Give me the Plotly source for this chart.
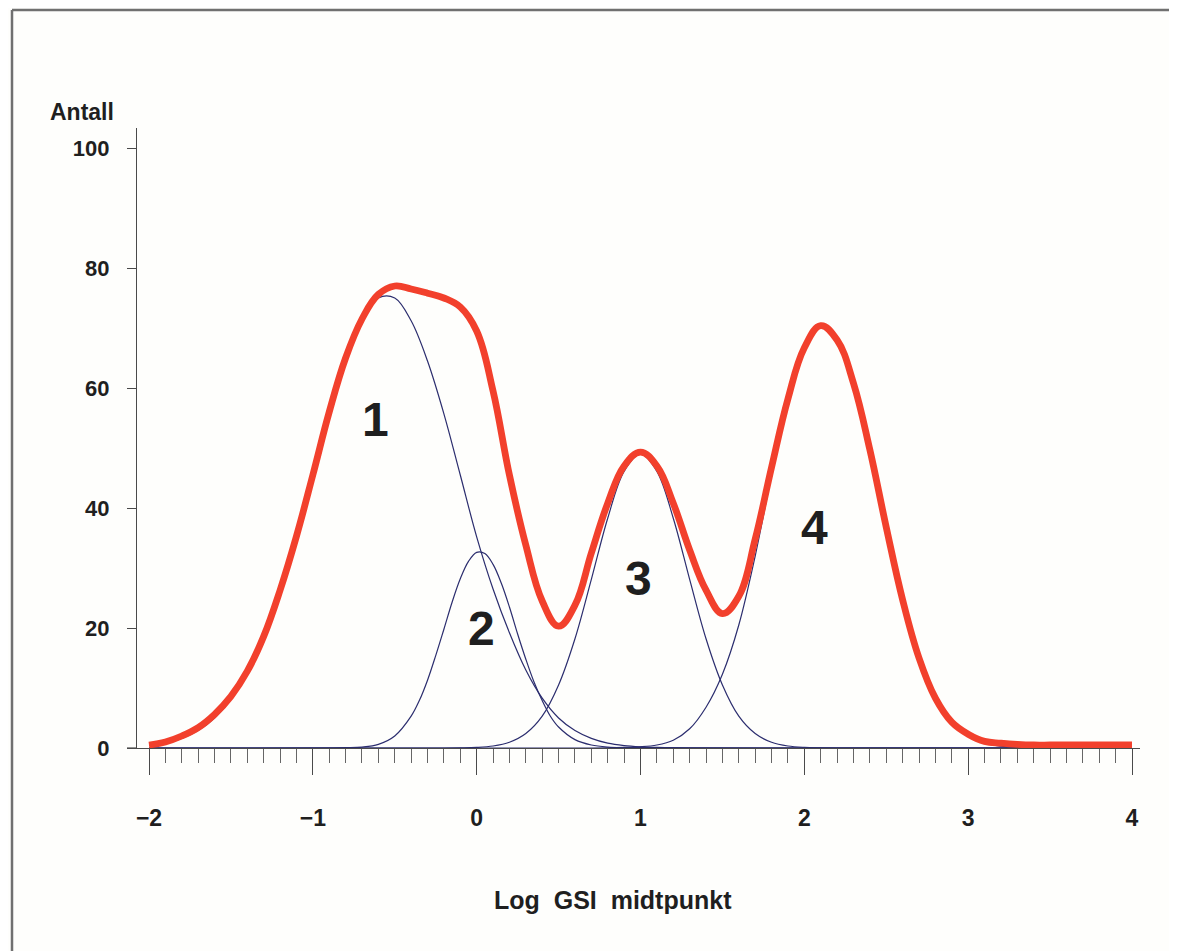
import plotly.graph_objects as go

# ---- data ----
x_vals = [-2.0, -1.9, -1.8, -1.7, -1.6, -1.5, -1.4, -1.3, -1.2, -1.1,
          -1.0, -0.9, -0.8, -0.7, -0.6, -0.5, -0.4, -0.3, -0.2, -0.1,
          0.0, 0.1, 0.2, 0.3, 0.4, 0.5, 0.6, 0.7, 0.8, 0.9,
          1.0, 1.1, 1.2, 1.3, 1.4, 1.5, 1.6, 1.7, 1.8, 1.9,
          2.0, 2.1, 2.2, 2.3, 2.4, 2.5, 2.6, 2.7, 2.8, 2.9,
          3.0, 3.1, 3.2, 3.3, 3.4, 3.5, 3.6, 3.7, 3.8, 3.9, 4.0]

total = [0.5, 1.0, 2.0, 3.4, 5.6, 8.6, 12.8, 18.6, 26.3, 35.3,
         45.5, 56.0, 65.0, 71.5, 75.6, 77.0, 76.5, 75.8, 75.0, 73.5,
         69.5, 59.5, 45.5, 33.8, 24.5, 20.3, 23.8, 32.5, 40.8, 47.0,
         49.3, 47.0, 40.8, 33.0, 26.3, 22.4, 25.3, 34.8, 46.8, 58.2,
         66.7, 70.4, 68.0, 60.8, 49.7, 36.8, 24.7, 15.0, 8.3, 4.3,
         2.3, 1.1, 0.8, 0.6, 0.5, 0.5, 0.5, 0.5, 0.5, 0.5, 0.5]

comp1 = [0.4, 0.8, 1.6, 2.9, 5.0, 8.1, 12.6, 18.6, 26.2, 35.4,
         45.5, 55.7, 64.5, 71.2, 75.0, 75.0, 71.2, 64.5, 55.7, 45.5,
         35.2, 26.5, 19.2, 13.0, 8.3, 5.0, 2.9, 1.6, 0.8, 0.4,
         0.2, 0.1, 0.05, 0, 0, 0, 0, 0, 0, 0,
         0, 0, 0, 0, 0, 0, 0, 0, 0, 0,
         0, 0, 0, 0, 0, 0, 0, 0, 0, 0, 0]

# component 2 is narrow, so it was read at a finer step
x_comp2 = [-2.0, -0.8, -0.7, -0.6, -0.5, -0.4, -0.35, -0.3, -0.25, -0.2,
           -0.15, -0.1, -0.05, 0.0, 0.05, 0.1, 0.15, 0.2, 0.25, 0.3,
           0.35, 0.4, 0.45, 0.5, 0.6, 0.7, 0.8, 0.9, 4.0]
comp2 = [0, 0.05, 0.15, 0.6, 2.0, 5.3, 7.9, 11.3, 15.4, 19.8,
         24.3, 28.2, 31.1, 32.6, 32.4, 30.6, 27.5, 23.5, 19.0, 14.8,
         11.0, 7.9, 5.3, 3.5, 1.4, 0.5, 0.15, 0.05, 0]

comp3 = [0, 0, 0, 0, 0, 0, 0, 0, 0, 0,
         0, 0, 0, 0, 0, 0, 0, 0, 0, 0.03,
         0.1, 0.33, 0.95, 2.4, 5.3, 10.5, 18.2, 28.1, 38.3, 46.1,
         49.0, 46.1, 38.3, 28.1, 18.2, 10.5, 5.3, 2.4, 0.95, 0.33,
         0.1, 0.03, 0, 0, 0, 0, 0, 0, 0, 0,
         0, 0, 0, 0, 0, 0, 0, 0, 0, 0, 0]

comp4 = [0, 0, 0, 0, 0, 0, 0, 0, 0, 0,
         0, 0, 0, 0, 0, 0, 0, 0, 0, 0,
         0, 0, 0, 0, 0, 0, 0, 0, 0.04, 0.1,
         0.2, 0.5, 1.3, 3.2, 6.8, 12.3, 20.5, 32.0, 45.5, 58.0,
         67.0, 70.5, 68.0, 60.8, 49.7, 36.8, 24.7, 15.0, 8.3, 4.2,
         2.0, 0.8, 0.3, 0.1, 0, 0, 0, 0, 0, 0, 0]

components = [(x_vals, comp1), (x_comp2, comp2), (x_vals, comp3), (x_vals, comp4)]

peak_labels = ["1", "2", "3", "4"]
label_x = [-0.62, 0.03, 0.985, 2.065]
label_y = [54.7, 20.0, 28.3, 36.8]

x_ticks = [-2, -1, 0, 1, 2, 3, 4]
y_ticks = [0, 20, 40, 60, 80, 100]

# ---- figure ----
FONT = "Liberation Sans, Arial, Helvetica, sans-serif"
NAVY = "#2b2d6e"
RED = "#f2402c"
AXIS = "#4a4a4a"
TXT = "#1f1f1f"

OFF = 8  # page body margin
W, H = 1177, 951
# target page positions of the plot area: left 137, right 1140, top 128, bottom 748
L = 137 - OFF
T = 128 - OFF
R = W - (1140 - OFF)
B = H - (748 - OFF)
pw, ph = W - L - R, H - T - B


def px(xp):
    return (xp - OFF - L) / pw


def py(yp):
    return (H - B - (yp - OFF)) / ph


fig = go.Figure()
for cx, cy in components:
    fig.add_trace(go.Scatter(x=cx, y=cy, mode="lines",
                             line=dict(color=NAVY, width=1.2, shape="spline", smoothing=1.0),
                             hoverinfo="skip", showlegend=False))
fig.add_trace(go.Scatter(x=x_vals, y=total, mode="lines",
                         line=dict(color=RED, width=6.8, shape="spline", smoothing=1.15),
                         showlegend=False))

for t, lx, ly in zip(peak_labels, label_x, label_y):
    fig.add_annotation(x=lx, y=ly, text=t, showarrow=False,
                       font=dict(family=FONT, size=48, color=TXT, weight="bold"),
                       xanchor="center", yanchor="middle")

# axis labels
fig.add_annotation(xref="paper", yref="paper", x=px(82), y=py(112),
                   text="Antall", showarrow=False, xanchor="center", yanchor="middle",
                   font=dict(family=FONT, size=23, color=TXT, weight="bold"))
fig.add_annotation(xref="paper", yref="paper", x=px(613), y=py(900),
                   text="Log\u00a0 GSI\u00a0 midtpunkt", showarrow=False,
                   xanchor="center", yanchor="middle",
                   font=dict(family=FONT, size=25, color=TXT, weight="bold"))

# frame (left and top edges of the scanned figure) and axis line extension
fig.add_shape(type="line", xref="paper", yref="paper", x0=px(12), x1=px(12), y0=py(10), y1=py(1000),
              line=dict(color="#707070", width=2.5))
fig.add_shape(type="line", xref="paper", yref="paper", x0=px(12), x1=px(1250), y0=py(10), y1=py(10),
              line=dict(color="#707070", width=2.5))
fig.add_shape(type="line", xref="paper", yref="paper", x0=px(127), x1=0, y0=0, y1=0,
              line=dict(color=AXIS, width=1.2))

x_lo = -2 - (149 - 137) / 163.83
x_hi = 4 + (1140 - 1132) / 163.83

fig.update_xaxes(range=[x_lo, x_hi], showgrid=False, zeroline=False,
                 showline=True, linecolor=AXIS, linewidth=1.2,
                 ticks="outside", ticklen=26, tickwidth=1.2, tickcolor=AXIS,
                 tickvals=x_ticks, ticklabelstandoff=23,
                 tickfont=dict(family=FONT, size=23, color=TXT, weight="bold"),
                 minor=dict(dtick=0.1, tick0=0, ticks="outside", ticklen=14,
                            tickwidth=1.0, tickcolor="#666666"))
fig.update_yaxes(range=[0, 620 / 6], showgrid=False, zeroline=False,
                 showline=True, linecolor=AXIS, linewidth=1.2,
                 ticks="outside", ticklen=9, tickwidth=1.2, tickcolor=AXIS,
                 tickvals=y_ticks, ticklabelstandoff=13,
                 tickfont=dict(family=FONT, size=22, color=TXT, weight="bold"))

fig.update_layout(width=W, height=H, margin=dict(l=L, r=R, t=T, b=B, autoexpand=False),
                  paper_bgcolor="#fefefc", plot_bgcolor="#fefefc", showlegend=False)

fig.write_html("out.html")
